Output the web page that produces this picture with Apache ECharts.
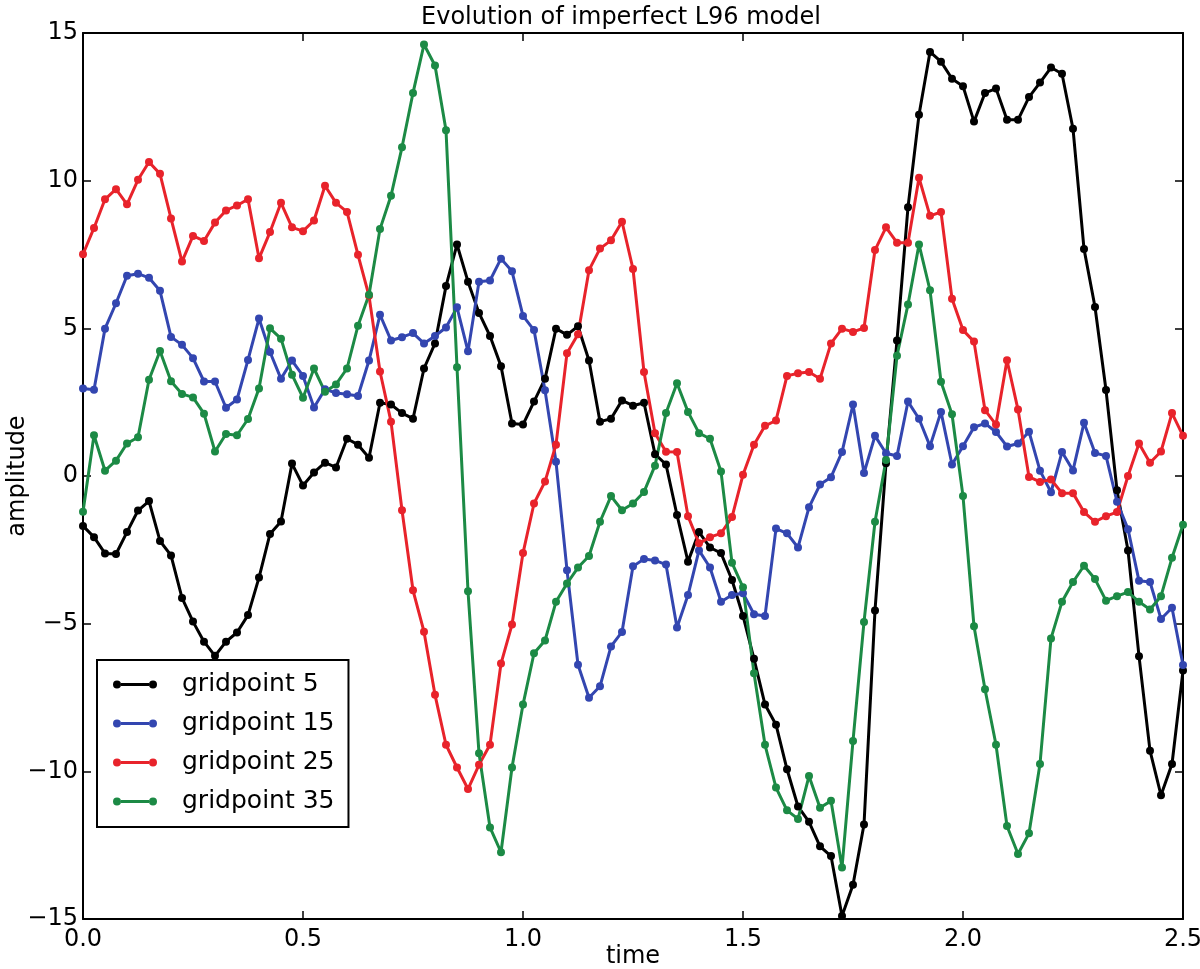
<!DOCTYPE html>
<html>
<head>
<meta charset="utf-8">
<title>Evolution of imperfect L96 model</title>
<script src="https://cdn.jsdelivr.net/npm/echarts@6/dist/echarts.min.js"></script>
<style>
  html, body { margin: 0; padding: 0; background: #fff; }
  #main { width: 1200px; height: 969px; }
</style>
</head>
<body>
<div id="main"></div>
<script>
// sample step of the model output (time units)
var dt = 0.025;

// amplitude at each step
var gp5 = [
  -1.69, -2.07, -2.62, -2.64, -1.90, -1.17, -0.85, -2.20, -2.69, -4.13,
  -4.93, -5.61, -6.09, -5.61, -5.30, -4.71, -3.44, -1.96, -1.54, 0.42,
  -0.32, 0.12, 0.45, 0.29, 1.26, 1.06, 0.62, 2.48, 2.42, 2.13,
  1.94, 3.64, 4.49, 6.43, 7.84, 6.58, 5.52, 4.74, 3.72, 1.78,
  1.74, 2.52, 3.29, 4.99, 4.78, 5.07, 3.91, 1.84, 1.94, 2.56,
  2.38, 2.48, 0.74, 0.39, -1.32, -2.90, -1.90, -2.42, -2.61, -3.52,
  -4.74, -6.19, -7.74, -8.42, -9.93, -11.19, -11.71, -12.54, -12.87, -14.9,
  -13.84, -11.8, -4.55, 0.43, 4.59, 9.10, 12.23, 14.36, 14.03, 13.45,
  13.20, 12.0, 12.97, 13.12, 12.06, 12.06, 12.83, 13.32, 13.83, 13.62,
  11.76, 7.69, 5.72, 2.91, -0.48, -2.52, -6.10, -9.30, -10.81, -9.75,
  -6.59
];
var gp15 = [
  2.96, 2.92, 4.99, 5.85, 6.78, 6.85, 6.71, 6.27, 4.71, 4.44,
  3.99, 3.20, 3.20, 2.31, 2.59, 3.93, 5.33, 4.2, 3.29, 3.91,
  3.39, 2.32, 2.94, 2.81, 2.77, 2.71, 3.91, 5.46, 4.59, 4.70,
  4.84, 4.49, 4.74, 5.03, 5.71, 4.22, 6.58, 6.62, 7.36, 6.93,
  5.42, 4.94, 2.90, 0.48, -3.19, -6.39, -7.51, -7.12, -5.77, -5.28,
  -3.06, -2.81, -2.86, -3.0, -5.13, -4.03, -2.52, -3.10, -4.26, -4.03,
  -3.97, -4.68, -4.74, -1.78, -1.94, -2.42, -1.06, -0.29, -0.04, 0.81,
  2.42, 0.10, 1.36, 0.77, 0.68, 2.52, 1.94, 1.01, 2.17, 0.39,
  1.01, 1.65, 1.78, 1.49, 1.0, 1.1, 1.5, 0.18, -0.55, 0.81,
  0.19, 1.80, 0.78, 0.68, -0.87, -1.80, -3.55, -3.59, -4.84, -4.46,
  -6.40
];
var gp25 = [
  7.51, 8.40, 9.37, 9.71, 9.20, 10.03, 10.63, 10.23, 8.72, 7.26,
  8.13, 7.96, 8.58, 8.99, 9.16, 9.37, 7.37, 8.26, 9.25, 8.42,
  8.29, 8.65, 9.83, 9.25, 8.94, 7.49, 6.10, 3.54, 1.84, -1.16,
  -3.87, -5.27, -7.41, -9.10, -9.87, -10.6, -9.78, -9.10, -6.35, -5.03,
  -2.61, -0.93, -0.19, 1.06, 4.16, 4.80, 6.97, 7.70, 7.98, 8.61,
  7.01, 3.52, 1.45, 0.82, 0.81, -1.36, -2.28, -2.07, -1.94, -1.39,
  0.04, 1.06, 1.70, 1.88, 3.39, 3.48, 3.52, 3.29, 4.49, 4.99,
  4.88, 5.01, 7.65, 8.42, 7.90, 7.90, 10.10, 8.81, 8.94, 6.0,
  4.94, 4.55, 2.23, 1.74, 3.92, 2.25, -0.03, -0.2, -0.12, -0.58,
  -0.58, -1.22, -1.55, -1.36, -1.22, 0.0, 1.10, 0.45, 0.83, 2.13,
  1.36
];
var gp35 = [
  -1.21, 1.38, 0.18, 0.52, 1.10, 1.31, 3.26, 4.23, 3.21, 2.78,
  2.66, 2.11, 0.83, 1.42, 1.38, 1.93, 2.96, 5.0, 4.65, 3.43,
  2.65, 3.64, 2.85, 3.10, 3.64, 5.09, 6.14, 8.36, 9.49, 11.13,
  12.97, 14.61, 13.90, 11.71, 3.68, -3.9, -9.39, -11.90, -12.74, -9.87,
  -7.74, -6.0, -5.57, -4.26, -3.64, -3.10, -2.71, -1.55, -0.68, -1.16,
  -0.93, -0.54, 0.35, 2.13, 3.14, 2.17, 1.45, 1.26, 0.15, -2.94,
  -3.77, -6.68, -9.10, -10.55, -11.32, -11.61, -10.16, -11.23, -11.0, -13.26,
  -8.97, -4.94, -1.55, 0.54, 4.07, 5.81, 7.84, 6.29, 3.19, 2.09,
  -0.68, -5.09, -7.22, -9.10, -11.85, -12.8, -12.1, -9.75, -5.5, -4.26,
  -3.59, -3.04, -3.49, -4.22, -4.07, -3.93, -4.26, -4.52, -4.07, -2.77,
  -1.65
];

var names = ['gridpoint 5', 'gridpoint 15', 'gridpoint 25', 'gridpoint 35'];
var colors = ['#000000', '#3346b0', '#e8232b', '#1c8a45'];
var values = [gp5, gp15, gp25, gp35];

var font = 'DejaVu Sans';
var minus = function (v) { return v < 0 ? '\u2212' + Math.abs(v) : String(v); };

// legend sample: a short line with a marker at each end
var legendIcon = 'path://M0,4A4,4,0,1,1,8,4A4,4,0,1,1,0,4Z' +
  'M36,4A4,4,0,1,1,44,4A4,4,0,1,1,36,4Z' +
  'M8,2.5L36,2.5L36,5.5L8,5.5Z';

var chart = echarts.init(document.getElementById('main'));

var frameX = function (pos, idx) {
  return {
    type: 'value', position: pos, min: 0, max: 2.5, interval: 0.5,
    axisLine: { show: true, onZero: false, lineStyle: { color: '#000', width: 2 } },
    axisTick: { show: true, inside: true, length: 8, lineStyle: { color: '#000', width: 1.5 } },
    axisLabel: {
      show: idx === 0, margin: 9, color: '#000', fontFamily: font, fontSize: 24,
      formatter: function (v) { return v.toFixed(1); }
    },
    splitLine: { show: false },
    name: idx === 0 ? 'time' : '', nameLocation: 'middle', nameGap: 26,
    nameMoveOverlap: false,
    nameTextStyle: { color: '#000', fontFamily: font, fontSize: 24 }
  };
};
var frameY = function (pos, idx) {
  return {
    type: 'value', position: pos, min: -15, max: 15, interval: 5,
    axisLine: { show: true, onZero: false, lineStyle: { color: '#000', width: 2 } },
    axisTick: { show: true, inside: true, length: 8, lineStyle: { color: '#000', width: 1.5 } },
    axisLabel: {
      show: idx === 0, margin: 5, color: '#000', fontFamily: font, fontSize: 24,
      formatter: minus
    },
    splitLine: { show: false },
    name: idx === 0 ? 'amplitude' : '', nameLocation: 'middle', nameGap: 53,
    nameMoveOverlap: false,
    nameTextStyle: { color: '#000', fontFamily: font, fontSize: 24 }
  };
};

var series = values.map(function (arr, k) {
  return {
    name: names[k],
    type: 'line',
    data: arr.map(function (v, i) { return [i * dt, v]; }),
    symbol: 'circle',
    symbolSize: 8,
    showAllSymbol: true,
    color: colors[k],
    lineStyle: { color: colors[k], width: 3 },
    itemStyle: { color: colors[k], borderWidth: 0 },
    emphasis: { disabled: true }
  };
});

var option = {
  animation: false,
  backgroundColor: '#fff',
  title: {
    text: 'Evolution of imperfect L96 model',
    left: 616, top: 1, textAlign: 'center',
    textStyle: { color: '#000', fontFamily: font, fontSize: 24, fontWeight: 'normal' }
  },
  grid: { left: 83, right: 17, top: 33, bottom: 50, containLabel: false, outerBoundsMode: 'none' },
  xAxis: [frameX('bottom', 0), frameX('top', 1)],
  yAxis: [frameY('left', 0), frameY('right', 1)],
  legend: {
    orient: 'vertical',
    left: 97, top: 660,
    padding: [11, 14, 12, 16],
    itemGap: 12,
    itemWidth: 44, itemHeight: 8,
    icon: legendIcon,
    backgroundColor: '#fff',
    borderColor: '#000', borderWidth: 2, borderRadius: 0,
    selectedMode: false,
    itemStyle: { borderWidth: 0 },
    textStyle: {
      color: '#000', fontFamily: font, fontSize: 25, lineHeight: 27,
      padding: [0, 0, 0, 20]
    },
    data: names
  },
  series: series
};

chart.setOption(option);
</script>
</body>
</html>
